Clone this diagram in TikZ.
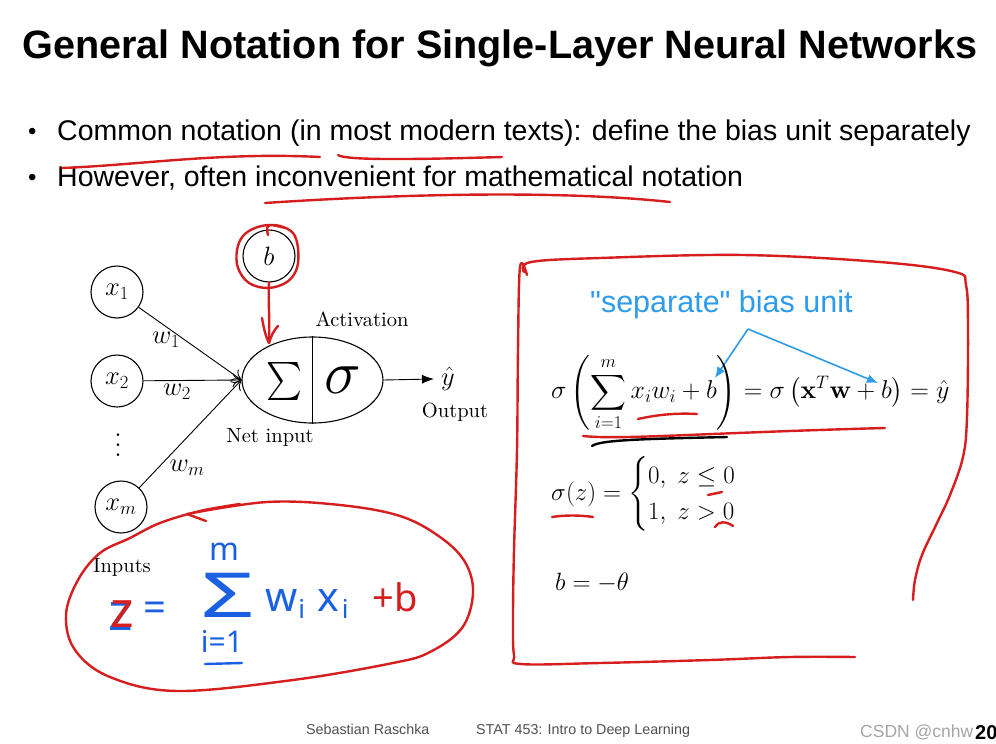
\RequirePackage{fix-cm}
\documentclass[tikz,border=0pt]{standalone}
\usepackage{amsmath}
\usepackage{exscale}
\usepackage{graphicx}
\usepackage{fontspec}
\setmainfont{lmroman10-regular.otf}[BoldFont=lmroman10-bold.otf, ItalicFont=lmroman10-italic.otf]
\newfontfamily\hel{Liberation Sans}
\newfontfamily\handf{Noto Sans}
\usetikzlibrary{arrows.meta,shapes.geometric}
\definecolor{penred}{RGB}{214,30,30}
\definecolor{penblue}{RGB}{28,96,226}
\definecolor{tblue}{RGB}{46,156,234}
\definecolor{footgray}{RGB}{80,80,80}
\definecolor{wmgray}{RGB}{165,165,165}
\tikzset{
  unit/.style={draw, circle, minimum size=52pt, inner sep=0pt, line width=1.1pt},
  lab/.style={font=\fontsize{20.5}{24}\selectfont, inner sep=0pt},
  mlab/.style={font=\fontsize{26.5}{30}\selectfont, inner sep=0pt},
  inarrow/.style={line width=0.9pt, -{To[length=9pt,width=14pt]}},
  pen/.style={penred, line width=2.4pt, line cap=round, line join=round},
  bpen/.style={penblue, line width=2.4pt, line cap=round, line join=round},
  barrow/.style={tblue, line width=1.6pt, -{Latex[length=11pt,width=9pt]}},
  hand/.style={font=\handf, inner sep=0pt},
  eqs/.style={font=\fontsize{25}{30}\selectfont, inner sep=0pt},
}
\begin{document}
\begin{tikzpicture}[x=1pt,y=-1pt]
\useasboundingbox[fill=white] (0,0) rectangle (996,744);

% title and bullets
\node[anchor=base west, inner sep=0pt, font=\hel\bfseries\fontsize{39.6}{44}\selectfont] (title) at (22,58) {General Notation for Single-Layer Neural Networks};
\node[anchor=base west, inner sep=0pt, font=\hel\fontsize{24}{26}\selectfont] (dot1) at (28,139) {\textbullet};
\node[anchor=base west, inner sep=0pt, font=\hel\fontsize{28.5}{32}\selectfont] (bul1) at (57,140) {Common notation (in most modern texts): define the bias unit separately};
\node[anchor=base west, inner sep=0pt, font=\hel\fontsize{24}{26}\selectfont] (dot2) at (28,185) {\textbullet};
\node[anchor=base west, inner sep=0pt, font=\hel\fontsize{28.5}{32}\selectfont] (bul2) at (57,186) {However, often inconvenient for mathematical notation};
\draw[pen] (62,168) .. controls (140,165) and (220,152) .. (320,157);
\draw[pen] (338,155) .. controls (345,160) and (400,160) .. (502,157);
\draw[pen] (265,203) .. controls (400,194) and (560,190) .. (670,202);

% perceptron diagram
\node[unit, mlab] (b) at (269,256) {$b$};
\node[unit, mlab] (x1) at (117,292) {$x_1$};
\node[unit, mlab] (x2) at (117,381) {$x_2$};
\node[unit, mlab] (xm) at (121,507) {$x_m$};
\node[inner sep=0pt] (dots) at (118,438) {\scalebox{2.5}{$\vdots$}};
\node[draw, ellipse, line width=1.1pt, minimum width=141pt, minimum height=86pt, inner sep=0pt] (sum) at (312.5,380) {};
\draw[line width=1.1pt] (sum.north) -- (sum.south);
\node[inner sep=0pt] (sig) at (284,381) {\resizebox*{36pt}{38pt}{$\textstyle\sum$}};
\node[inner sep=0pt, font=\fontsize{62}{66}\selectfont] (act) at (343,380) {$\sigma$};
\node[lab] (lact) at (362,319) {Activation};
\node[lab] (lnet) at (270,437) {Net input};
\node[mlab] (yhat) at (448,379) {$\hat{y}$};
\node[lab] (lout) at (455,412) {Output};
\node[lab] (linp) at (122,567) {Inputs};
\node[mlab] (w1) at (166,340) {$w_1$};
\node[mlab] (w2) at (177,392) {$w_2$};
\node[mlab] (wm) at (187,468) {$w_m$};
\draw[inarrow] (x1) -- (sum.west);
\draw[inarrow] (x2) -- (sum.west);
\draw[inarrow] (xm) -- (sum.west);
\draw[line width=0.9pt, -{Latex[length=12pt,width=9pt]}] (sum.east) -- ([xshift=-7pt]yhat.west);

% red annotations on diagram
\coordinate (rtip) at (269,343);
\draw[pen] (b.south) .. controls (268,300) and (270,320) .. (rtip);
\draw[pen] (262,318) .. controls (264,330) and (266,337) .. (rtip) .. controls (271,336) and (274,330) .. (278,326);
\draw[pen] plot[smooth, tension=0.6] coordinates {(268,235) (268,226) (280,226) (293,233) (298,248) (297,268) (287,282) (268,288) (249,283) (238,268) (237,250) (243,236) (255,228) (270,225) (285,228)};

% handwritten loop
\draw[pen] plot[smooth, tension=0.6] coordinates {(187,514) (267,502) (340,505) (400,516) (440,537) (465,562) (473,593) (462,628) (430,652) (393,663) (293,680) (177,691) (110,677) (75,650) (66,615) (78,580) (100,553) (130,538) (160,523) (200,511) (240,504)};
\draw[pen] (187,514) -- (206,521);
\node[hand, text=penblue, font=\handf\fontsize{52}{56}\selectfont] (hz) at (121,617) {z};
\node[hand, text=penred, font=\handf\fontsize{50}{56}\selectfont] (hzr) at (122,614) {z};
\node[hand, text=penblue, font=\handf\fontsize{40}{44}\selectfont] (heq) at (155,612) {=};
\node[hand, text=penblue, font=\handf\fontsize{62}{66}\selectfont] (hsum) at (228,595) {\scalebox{1.5}[1]{Σ}};
\node[hand, text=penblue, font=\handf\fontsize{32}{36}\selectfont] (hm) at (224,552) {m};
\node[hand, text=penblue, font=\handf\fontsize{30}{34}\selectfont] (hi) at (222,641) {i=1};
\draw[bpen] (205,664) -- (242,663);
\node[hand, text=penblue, anchor=west, font=\handf\fontsize{41}{44}\selectfont] (hwx) at (265,604) {w\hspace{1pt}\raisebox{-7pt}{\fontsize{26}{28}\selectfont i}\hspace{12pt}x\hspace{3pt}\raisebox{-7pt}{\fontsize{26}{28}\selectfont i}};
\node[hand, text=penred, font=\handf\fontsize{38}{42}\selectfont] (hb) at (395,597) {+b};

% right box
\draw[pen] plot[smooth, tension=0.6] coordinates {(524,272) (531,262) (600,258) (743,255) (880,262) (955,272) (966,285) (968,330) (967,417) (963,457) (950,495) (937,523) (922,555) (915,580) (913,600)};
\draw[pen] plot[smooth, tension=0.6] coordinates {(527,275) (520,267) (518,350) (517,450) (514,550) (513,617) (514,655) (521,664) (600,663) (710,660) (790,657) (855,657)};
\node[anchor=base west, inner sep=0pt, text=tblue, font=\hel\fontsize{30.5}{34}\selectfont] (sep) at (590,312) {"separate" bias unit};
\coordinate (apex) at (748,329);
\draw[barrow] (apex) -- (715,378);
\draw[barrow] (apex) -- (878,383);
\node[eqs, anchor=west, font=\fontsize{25.8}{30}\selectfont] (eq1) at (551,393) {$\displaystyle \sigma\left(\sum_{i=1}^{m} x_i w_i + b\right) = \sigma\left(\mathbf{x}^T\mathbf{w}+b\right) = \hat{y}$};
\node[eqs, anchor=west] (eq2) at (551,494) {$\sigma(z) = \begin{cases}0,\; z\le 0\\ 1,\; z>0\end{cases}$};
\node[eqs, anchor=base west] (eq3) at (555,590) {$b = -\theta$};
\draw[pen] (638,419) .. controls (660,414) and (680,413) .. (697,414);
\draw[pen] (583,436) .. controls (620,440) and (700,433) .. (885,428);
\draw[line width=2.4pt, line cap=round] (592,446) .. controls (600,440) and (640,439) .. (727,437);
\draw[pen] (552,517) .. controls (565,515) and (580,515) .. (593,517);
\draw[pen] (708,495) -- (722,492);
\draw[pen] (715,527) .. controls (718,521) and (726,521) .. (733,526);

% footer
\node[anchor=base west, inner sep=0pt, text=footgray, font=\hel\fontsize{14.3}{16}\selectfont] (f1) at (306,734) {Sebastian Raschka};
\node[anchor=base west, inner sep=0pt, text=footgray, font=\hel\fontsize{14.3}{16}\selectfont] (f2) at (476,734) {STAT 453: Intro to Deep Learning};
\node[anchor=base west, inner sep=0pt, text=wmgray, font=\hel\fontsize{17.5}{20}\selectfont] (wm) at (860,737) {CSDN @cnhw};
\node[anchor=base west, inner sep=0pt, font=\hel\bfseries\fontsize{20}{22}\selectfont] (pg) at (975,739) {20};
\end{tikzpicture}
\end{document}
